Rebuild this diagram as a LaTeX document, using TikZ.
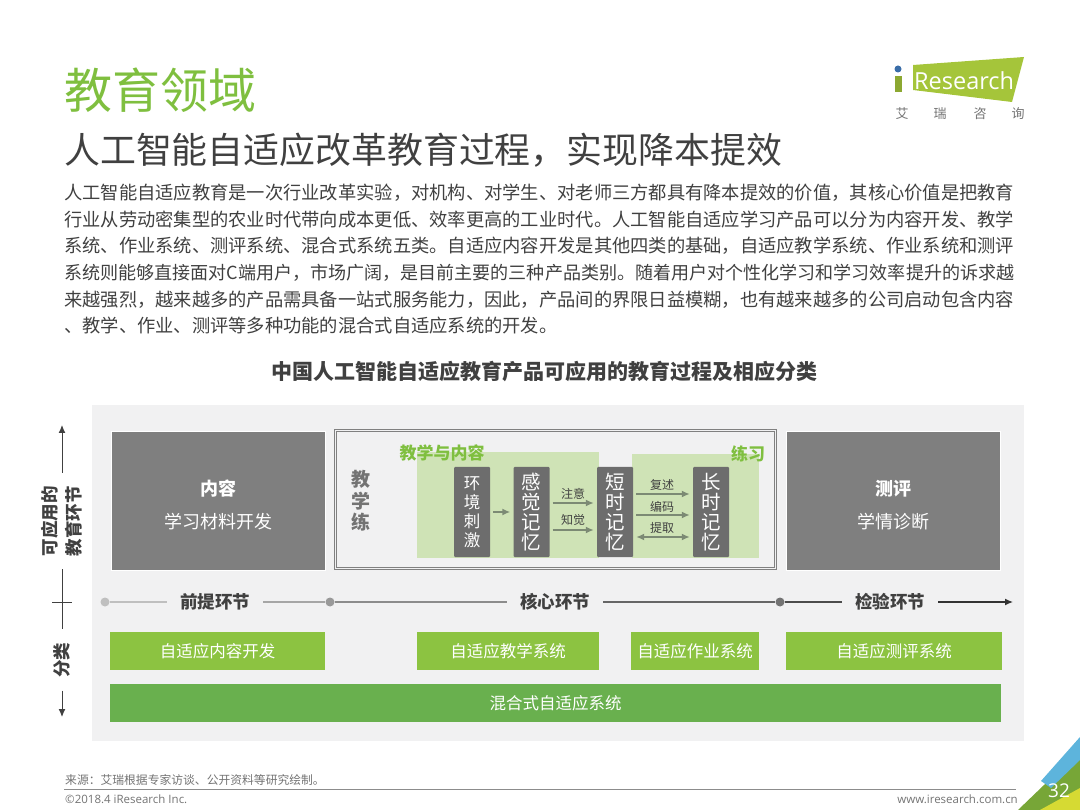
\documentclass[tikz,border=0pt]{standalone}
\usepackage{fontspec}
\setmainfont{Noto Sans CJK SC}
\newfontfamily\latinfont{Open Sans}
\usetikzlibrary{positioning, arrows.meta}
\definecolor{panelgray}{HTML}{F1F1F2}
\definecolor{boxgray}{HTML}{7F7F7F}
\definecolor{memgray}{HTML}{6D6D6D}
\definecolor{textgray}{HTML}{404040}
\definecolor{leafgreen}{HTML}{8CC341}
\definecolor{deepgreen}{HTML}{69B04E}
\definecolor{palegreen}{HTML}{CFE3B6}
\definecolor{titlegreen}{HTML}{7FBF3F}
\definecolor{logogreen}{HTML}{A5C53A}
\definecolor{logoblue}{HTML}{3A6DA8}
\definecolor{cornerblue}{HTML}{5DB4DC}
\definecolor{arrowgray}{HTML}{7C8A74}
\newcommand{\fs}[1]{\fontsize{#1}{#1}\selectfont}

\begin{document}
\begin{tikzpicture}[x=1pt, y=-1pt, >={Latex[length=8pt,width=7pt]}, node distance=26.6pt,
	bodyline/.style={anchor=west, inner sep=0pt, text=textgray, font=\fs{18.27}},
	bigbox/.style={fill=boxgray, draw=white, line width=.6pt, text=white, minimum width=214pt, minimum height=139pt, inner sep=0pt, align=center, font=\fontsize{18}{25}\selectfont},
	mem/.style={fill=memgray, rounded corners=1pt, text=white, minimum width=36pt, minimum height=90pt, inner sep=0pt, align=center, font=\fontsize{19.5}{20}\selectfont},
	pale/.style={fill=palegreen, inner sep=0pt},
	tag/.style={text=titlegreen, inner sep=0pt, font=\bfseries\fs{17}},
	flow/.style={draw=arrowgray, line width=1.6pt, shorten >=3pt, shorten <=3pt},
	small/.style={text=textgray, inner sep=0pt, font=\fs{12}},
	stage/.style={text=textgray, inner xsep=13pt, inner ysep=0pt, font=\bfseries\fs{17.5}},
	dot/.style={circle, minimum size=9pt, inner sep=0pt},
	leaf/.style={fill=leafgreen, text=white, minimum height=38pt, inner sep=0pt, font=\fs{16.5}},
	axis/.style={text=textgray, rotate=90, inner xsep=13pt, inner ysep=0pt, align=center, font=\bfseries\fontsize{17.5}{24}\selectfont},
	foot/.style={inner sep=0pt, text=black!55, font=\fs{11.8}}]
	\useasboundingbox (0,0) rectangle (1080,810);

	\node[anchor=west, inner sep=0pt, text=titlegreen, font=\fs{48}] (title) at (64,90) {教育领域};
	\node[anchor=west, inner sep=0pt, text=textgray, font=\fs{35.9}] (subtitle) at (64,150) {人工智能自适应改革教育过程，实现降本提效};

	\node[bodyline] (l1) at (64,193) {人工智能自适应教育是一次行业改革实验，对机构、对学生、对老师三方都具有降本提效的价值，其核心价值是把教育};
	\node[bodyline] (l2) [below=of l1.west, anchor=west] {行业从劳动密集型的农业时代带向成本更低、效率更高的工业时代。人工智能自适应学习产品可以分为内容开发、教学};
	\node[bodyline] (l3) [below=of l2.west, anchor=west] {系统、作业系统、测评系统、混合式系统五类。自适应内容开发是其他四类的基础，自适应教学系统、作业系统和测评};
	\node[bodyline, font=\fs{18.05}] (l4) [below=of l3.west, anchor=west] {系统则能够直接面对C端用户，市场广阔，是目前主要的三种产品类别。随着用户对个性化学习和学习效率提升的诉求越};
	\node[bodyline] (l5) [below=of l4.west, anchor=west] {来越强烈，越来越多的产品需具备一站式服务能力，因此，产品间的界限日益模糊，也有越来越多的公司启动包含内容};
	\node[bodyline] (l6) [below=of l5.west, anchor=west] {、教学、作业、测评等多种功能的混合式自适应系统的开发。};

	\node[inner sep=0pt, text=textgray, font=\bfseries\fs{21}] (charttitle) at (544.5,371) {中国人工智能自适应教育产品可应用的教育过程及相应分类};

	\fill[panelgray] (92,405) rectangle (1024,741);

	\node[bigbox] (content) at (218,500.5) {\rule{0pt}{24pt}{\bfseries 内容}\\[8pt]学习材料开发};
	\node[bigbox] (assess) at (893,500.5) {\rule{0pt}{24pt}{\bfseries 测评}\\[8pt]学情诊断};
	\node[draw=black!50, double=panelgray, double distance=1pt, line width=1pt, fill=panelgray, minimum width=440pt, minimum height=138pt, inner sep=0pt] (core box) at (555.5,499.5) {};

	\node[pale, minimum width=182pt, minimum height=106pt] (teach area) at (508,505) {};
	\node[pale, minimum width=127pt, minimum height=104pt] (drill area) at (695.5,506) {};
	\node[tag] (teach tag) at (442,453) {教学与内容};
	\node[tag] (drill tag) at (748,454) {练习};
	\node[inner sep=0pt, text=black!55, align=center, font=\bfseries\fontsize{19}{21.5}\selectfont] (teach drill) at (361,501) {教\\学\\练};

	\node[mem, font=\fontsize{16.5}{19}\selectfont] (env) at (472,512) {环\\境\\刺\\激};
	\node[mem] (sense) [right of=env, node distance=59.5pt] {感\\觉\\记\\忆};
	\node[mem] (short) [right of=sense, node distance=83.5pt] {短\\时\\记\\忆};
	\node[mem] (long) [right of=short, node distance=96pt] {长\\时\\记\\忆};

	\draw[->, flow] (env) -- (sense);
	\draw[->, flow] ([yshift=9pt]sense.east) -- ([yshift=9pt]short.west);
	\draw[->, flow] ([yshift=-18pt]sense.east) -- ([yshift=-18pt]short.west);
	\draw[->, flow] ([yshift=18pt]short.east) -- ([yshift=18pt]long.west);
	\draw[->, flow] ([yshift=-3pt]short.east) -- ([yshift=-3pt]long.west);
	\draw[<->, flow] ([yshift=-25pt]short.east) -- ([yshift=-25pt]long.west);

	\node[small] (attend) at (573,494) {注意};
	\node[small] (perceive) at (573,520) {知觉};
	\node[small] (recite) at (662,485) {复述};
	\node[small] (encode) at (662,507) {编码};
	\node[small] (fetch) at (662,528) {提取};

	\coordinate (axis top) at (62,425);
	\coordinate (axis end) at (62,717);
	\coordinate (tick left) at (52,602);
	\coordinate (tick right) at (72,602);
	\node[axis] (usable) at (62,521) {可应用的\\教育环节};
	\node[axis] (kinds) at (62,660) {分类};
	\draw[->, line width=1pt, textgray] (usable) -- (axis top);
	\draw[line width=1pt, textgray] (usable) -- (kinds);
	\draw[line width=1pt, textgray] (tick left) -- (tick right);
	\draw[->, line width=1pt, textgray] (kinds) -- (axis end);

	\node[dot, fill=black!25] (dot a) at (105,602) {};
	\node[dot, fill=black!40] (dot b) at (330,602) {};
	\node[dot, fill=black!55] (dot c) at (780,602) {};
	\node[stage] (pre) at (215,602) {前提环节};
	\node[stage] (core) at (555,602) {核心环节};
	\node[stage] (check) at (890,602) {检验环节};
	\coordinate (line end) at (1013,602);
	\draw[line width=1.3pt, black!25] (dot a) -- (pre);
	\draw[line width=1.3pt, black!35] (pre) -- (dot b);
	\draw[line width=1.3pt, black!45] (dot b) -- (core);
	\draw[line width=1.3pt, black!60] (core) -- (dot c);
	\draw[line width=1.3pt, black!70] (dot c) -- (check);
	\draw[->, line width=1.3pt, black!80] (check) -- (line end);

	\node[leaf, minimum width=215pt] (dev) at (217.5,651) {自适应内容开发};
	\node[leaf, minimum width=182pt] (teach sys) at (508,651) {自适应教学系统};
	\node[leaf, minimum width=128pt] (work sys) at (695,651) {自适应作业系统};
	\node[leaf, minimum width=216pt] (test sys) at (894,651) {自适应测评系统};
	\node[leaf, fill=deepgreen, minimum width=891pt] (mix sys) at (555.5,703) {混合式自适应系统};

	\fill[logogreen] (913,65) -- (1024,57) -- (1012,102) -- (913,90) -- cycle;
	\fill[logogreen!85!black] (895,76) rectangle (902,92);
	\node[circle, fill=logoblue, minimum size=7pt, inner sep=0pt] (logo dot) at (898,69) {};
	\node[anchor=west, inner sep=0pt, text=white, font=\latinfont\fs{23.5}] (logo) at (914,81) {Research};
	\node[inner sep=0pt, text=black!55, font=\fs{13}] (logo a) at (902,114) {艾};
	\node[inner sep=0pt, text=black!55, font=\fs{13}] (logo b) at (940,114) {瑞};
	\node[inner sep=0pt, text=black!55, font=\fs{13}] (logo c) at (980,114) {咨};
	\node[inner sep=0pt, text=black!55, font=\fs{13}] (logo d) at (1018,114) {询};

	\node[foot, anchor=west] (source) at (65,780) {来源：艾瑞根据专家访谈、公开资料等研究绘制。};
	\coordinate (rule left) at (64,789);
	\coordinate (rule right) at (1016,789);
	\draw[line width=1pt, black!45] (rule left) -- (rule right);
	\node[foot, anchor=west, font=\latinfont\fs{11.5}] (copy) at (65,799) {©2018.4 iResearch Inc.};
	\node[foot, anchor=east, font=\latinfont\fs{11.5}] (site) at (1018,799) {www.iresearch.com.cn};

	\fill[leafgreen!85!black] (1018,810) -- (1044,785) -- (1080,756) -- (1080,810) -- cycle;
	\fill[yellow!60!leafgreen] (1040,810) -- (1080,788) -- (1080,810) -- cycle;
	\fill[cornerblue] (1080,737) -- (1041,781) -- (1051,788) -- (1080,760) -- cycle;
	\node[inner sep=0pt, text=white, font=\latinfont\fs{19}] (page) at (1059,791) {32};
\end{tikzpicture}
\end{document}
